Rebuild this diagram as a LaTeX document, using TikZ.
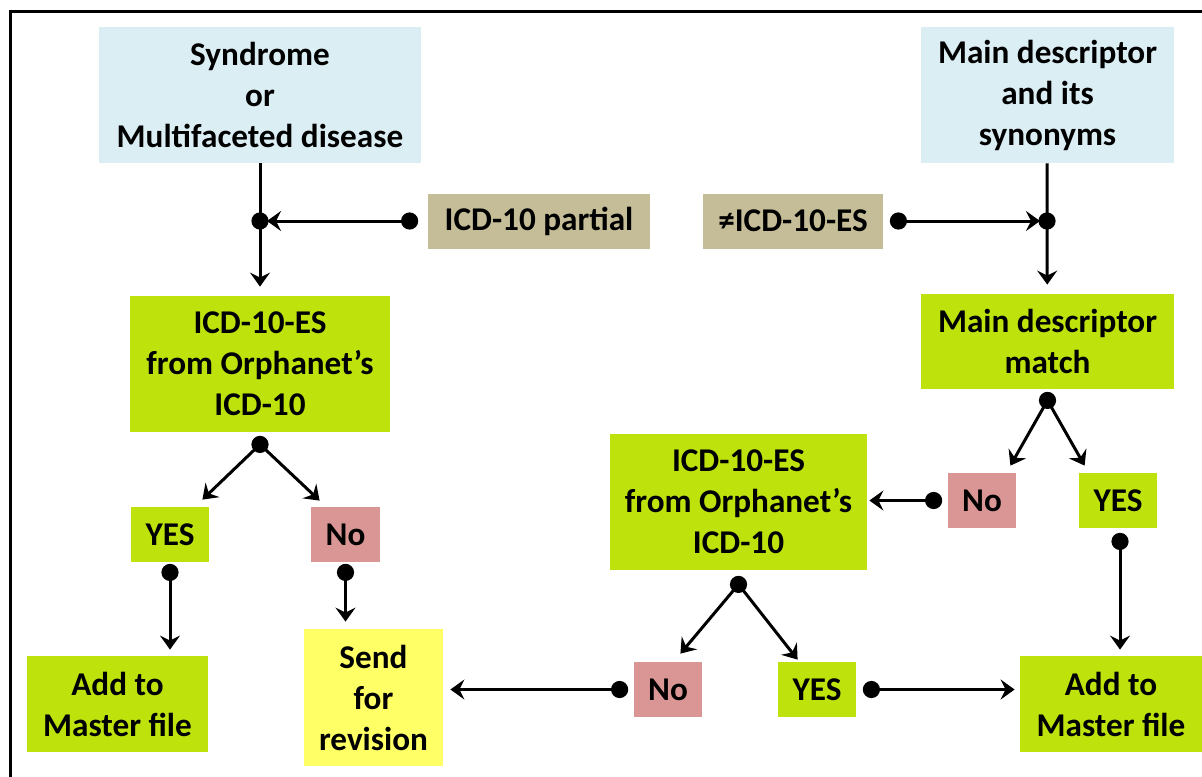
\documentclass[tikz,border=0pt]{standalone}
\usepackage{fontspec}
\setmainfont{Carlito}
\usetikzlibrary{arrows.meta,calc}

\definecolor{boxblue}{RGB}{219,238,244}
\definecolor{boxgreen}{RGB}{190,227,12}
\definecolor{boxtan}{RGB}{196,189,151}
\definecolor{boxpink}{RGB}{217,150,148}
\definecolor{boxyellow}{RGB}{255,255,102}

\begin{document}
\begin{tikzpicture}[x=0.5pt,y=-0.5pt,
	box/.style={inner sep=0pt,align=center,font=\bfseries\fontsize{16.6}{20.5}\selectfont},
	wire/.style={line width=1.5pt},
	arr/.style={line width=1.5pt,-{Stealth[length=7pt,width=10pt,inset=2.5pt]}},
	blob/.style={fill=black}]
		\useasboundingbox (0,0) rectangle (1202,776);
		% frame
		\draw [line width=1.5pt] (10,790) -- (10,11) -- (1215,11);
		% top row
		\node [box,fill=boxblue,minimum width=161pt,minimum height=68pt] (syn) at (260,95) {Syndrome\\or\\Multifaceted disease};
		\node [box,fill=boxblue,minimum width=126.5pt,minimum height=68pt] (mdesc) at (1047.5,95) {Main descriptor\\and its\\synonyms};
		\node [box,fill=boxtan,minimum width=111pt,minimum height=27.5pt] (part) at (539,221) {ICD-10 partial};
		\node [box,fill=boxtan,minimum width=90pt,minimum height=27.5pt] (neq) at (793,221) {≠ICD-10-ES};
		% second row
		\node [box,fill=boxgreen,minimum width=130pt,minimum height=68pt] (icdL) at (260,364) {ICD-10-ES\\from Orphanet’s\\ICD-10};
		\node [box,fill=boxgreen,minimum width=126.5pt,minimum height=47.5pt] (match) at (1047.5,341.5) {Main descriptor\\match};
		\node [box,fill=boxgreen,minimum width=128.5pt,minimum height=68pt] (icdM) at (738.5,502) {ICD-10-ES\\from Orphanet’s\\ICD-10};
		% yes / no
		\node [box,fill=boxgreen,minimum width=39pt,minimum height=27.5pt] (yesL) at (170,534.5) {YES};
		\node [box,fill=boxpink,minimum width=34.5pt,minimum height=27.5pt] (noL) at (345.5,534.5) {No};
		\node [box,fill=boxpink,minimum width=34pt,minimum height=27.5pt] (noR) at (982,500.5) {No};
		\node [box,fill=boxgreen,minimum width=39pt,minimum height=27.5pt] (yesR) at (1118,500.5) {YES};
		\node [box,fill=boxpink,minimum width=34pt,minimum height=27.5pt] (noM) at (668,689.5) {No};
		\node [box,fill=boxgreen,minimum width=39pt,minimum height=27.5pt] (yesM) at (817,689.5) {YES};
		% bottom row
		\node [box,fill=boxgreen,minimum width=90.5pt,minimum height=48pt] (addL) at (117.5,704) {Add to\\Master file};
		\node [box,fill=boxyellow,minimum width=69.5pt,minimum height=68.5pt] (send) at (373.5,697.5) {Send\\for\\revision};
		\node [box,fill=boxgreen,minimum width=91pt,minimum height=48pt] (addR) at (1111,704) {Add to\\Master file};
		% dots
		\coordinate (j1) at (260,221);
		\coordinate (j2) at (1047,221);
		\coordinate (dp) at ($(part.west)+(-18,0)$);
		\coordinate (dn) at ($(neq.east)+(15,0)$);
		\coordinate (d1) at ($(icdL.south)+(0,12)$);
		\coordinate (d2) at ($(match.south)+(0,11)$);
		\coordinate (d3) at ($(icdM.south)+(0,14)$);
		\coordinate (dyL) at ($(yesL.south)+(0,10)$);
		\coordinate (dnL) at ($(noL.south)+(0,10)$);
		\coordinate (dnR) at ($(noR.west)+(-14,0)$);
		\coordinate (dyR) at ($(yesR.south)+(2,13)$);
		\coordinate (dnM) at ($(noM.west)+(-14,0)$);
		\coordinate (dyM) at ($(yesM.east)+(15,0)$);
		% connectors
		\draw [wire] (syn) -- (j1);
		\draw [arr,shorten >=4.5pt] (j1) -- (icdL);
		\draw [arr,shorten >=3.5pt] (dp) -- (j1);
		\draw [wire] (mdesc) -- (j2);
		\draw [arr,shorten >=4.5pt] (j2) -- (match);
		\draw [arr,shorten >=3.5pt] (dn) -- (j2);
		\draw [arr] (d1) -- ($(yesL.north east)+(-7,-7)$);
		\draw [arr] (d1) -- ($(noL.north west)+(9,-6)$);
		\draw [arr,shorten >=3pt] (dyL) -- (dyL |- addL.north);
		\draw [arr,shorten >=3.5pt] (dnL) -- (dnL |- send.north);
		\draw [arr] (d2) -- ($(noR.north east)+(-6,-7)$);
		\draw [arr] (d2) -- ($(yesR.north west)+(6,-7)$);
		\draw [arr,shorten >=1pt] (dnR) -- (dnR -| icdM.east);
		\draw [arr,shorten >=3pt] (dyR) -- (dyR |- addR.north);
		\draw [arr] (d3) -- ($(noM.north east)+(-22,-8)$);
		\draw [arr] (d3) -- ($(yesM.north west)+(20,-2)$);
		\draw [arr,shorten >=3.5pt] (dnM) -- (dnM -| send.east);
		\draw [arr,shorten >=2.5pt] (dyM) -- (dyM -| addR.west);
		\foreach \d in {j1,j2,dp,dn,d1,d2,d3,dyL,dnL,dnR,dyR,dnM,dyM}
			\fill [blob] (\d) circle (4.3pt);
		\end{tikzpicture}
\end{document}
